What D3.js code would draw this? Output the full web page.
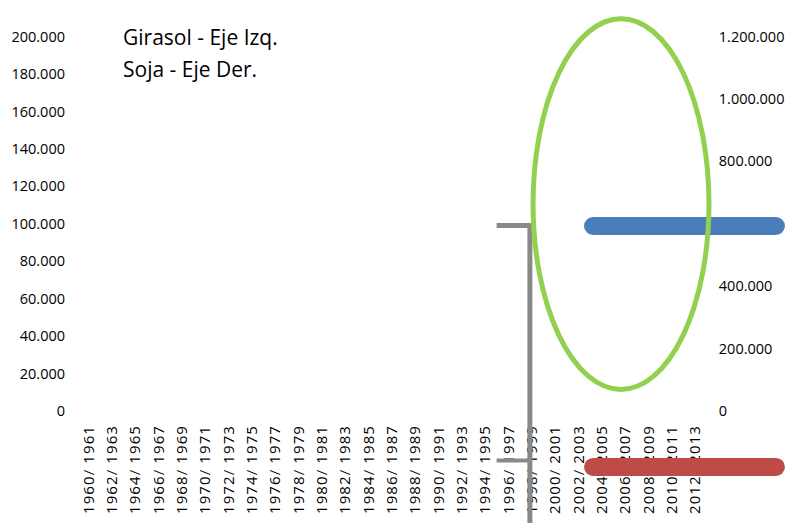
<!DOCTYPE html>
<html>
<head>
<meta charset="UTF-8">
<title>Girasol y Soja</title>
<script src="https://cdn.jsdelivr.net/npm/d3@7/dist/d3.min.js"></script>
<style type="text/css">
body { margin: 0; background: #fff; }
svg { display: block; }
.axis text { font-family: "Open Sans", sans-serif; fill: #000; }
</style>
</head>
<body>
<div class="chartContainer"></div>
<script>
// campañas 1960/1961 .. 2012/2013
var categories = [];
for (var yr = 1960; yr <= 2012; yr++) categories.push(yr + "/ " + (yr + 1));

var leftTicks = [0, 20000, 40000, 60000, 80000, 100000, 120000, 140000, 160000, 180000, 200000];
var rightTicks = [0, 200000, 400000, 600000, 800000, 1000000, 1200000];
var legendLabels = ["Girasol - Eje Izq.", "Soja - Eje Der."];

// shapes drawn on top of the chart, in (category index, left axis value)
var connectorTop = [[35.5, 99000], [38.35, 99000], [38.35, -70000]];
var connectorLow = [[35.5, -26400], [38.35, -26400]];
var blueBar = [[43.76, 98800], [59.44, 98800]];
var redBar = [[43.76, -29900], [59.44, -29900]];
var ellipse = {cx: 46.16, cy: 110500, rx: 7.54, ry: 99000};

var es = d3.formatLocale({decimal: ",", thousands: ".", grouping: [3], currency: ["$", ""]});
var fmt = es.format(",");

var width = 787, height = 523;
var plotLeft = 82.5, plotRight = 700.8, plotTop = 36.5, plotBottom = 411;

var svg = d3.select(".chartContainer")
	.append("svg")
	.attr("width", width)
	.attr("height", height);

var x = d3.scaleBand()
	.domain(categories)
	.range([plotLeft, plotRight]);

var xi = d3.scaleLinear()
	.domain([0, categories.length])
	.range([plotLeft, plotRight]);

var y = d3.scaleLinear()
	.domain([0, 200000])
	.range([plotBottom, plotTop]);

var yR = d3.scaleLinear()
	.domain([0, 1200000])
	.range([plotBottom, plotTop]);

var gLeft = svg.append("g")
	.attr("class", "axis")
	.attr("transform", "translate(" + plotLeft + ",0)")
	.call(d3.axisLeft(y).tickValues(leftTicks).tickFormat(fmt).tickSize(0).tickPadding(17.5));
gLeft.selectAll("text").style("font-size", "14.5px");

var gRight = svg.append("g")
	.attr("class", "axis")
	.attr("transform", "translate(" + plotRight + ",0)")
	.call(d3.axisRight(yR).tickValues(rightTicks).tickFormat(fmt).tickSize(0).tickPadding(18));
gRight.selectAll("text").style("font-size", "14.5px");

var gBottom = svg.append("g")
	.attr("class", "axis")
	.attr("transform", "translate(0," + plotBottom + ")")
	.call(d3.axisBottom(x)
		.tickValues(categories.filter(function(d, i) { return i % 2 == 0; }))
		.tickSize(0));
gBottom.selectAll("text")
	.attr("transform", "rotate(-90)")
	.attr("text-anchor", "end")
	.attr("x", -14)
	.attr("y", 0)
	.attr("dy", "0.35em")
	.style("font-size", "15px")
	.style("letter-spacing", "1.1px");

svg.selectAll(".domain").remove();

svg.selectAll(".legendText")
	.data(legendLabels)
	.enter()
	.append("text")
	.attr("class", "legendText")
	.attr("x", 123)
	.attr("y", function(d, i) { return 45 + i * 31.5; })
	.style("font-family", "'Open Sans', sans-serif")
	.style("font-size", "21px")
	.text(function(d) { return d; });

var line = d3.line()
	.x(function(d) { return xi(d[0]); })
	.y(function(d) { return y(d[1]); });

svg.append("path")
	.attr("d", line(connectorTop))
	.attr("fill", "none")
	.attr("stroke", "#898989")
	.attr("stroke-width", 5)
	.attr("stroke-linejoin", "miter");

svg.append("path")
	.attr("d", line(connectorLow))
	.attr("fill", "none")
	.attr("stroke", "#898989")
	.attr("stroke-width", 4);

svg.append("path")
	.attr("d", line(blueBar))
	.attr("stroke", "#4a7ebb")
	.attr("stroke-width", 18)
	.attr("stroke-linecap", "round");

svg.append("path")
	.attr("d", line(redBar))
	.attr("stroke", "#be4b48")
	.attr("stroke-width", 18)
	.attr("stroke-linecap", "round");

svg.append("ellipse")
	.attr("cx", xi(ellipse.cx))
	.attr("cy", y(ellipse.cy))
	.attr("rx", xi(ellipse.rx) - xi(0))
	.attr("ry", y(0) - y(ellipse.ry))
	.attr("fill", "none")
	.attr("stroke", "#92d050")
	.attr("stroke-width", 5);
</script>
</body>
</html>
